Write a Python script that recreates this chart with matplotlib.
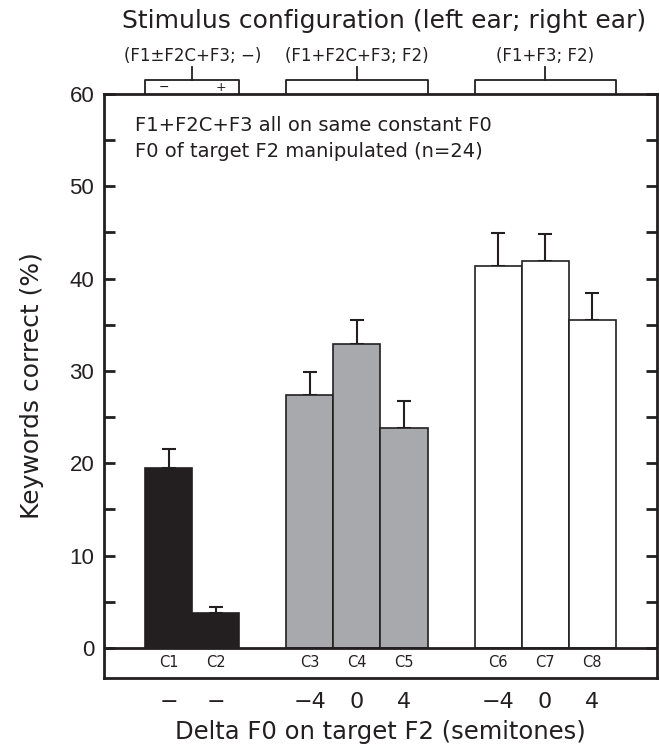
import matplotlib
matplotlib.use("Agg")
import matplotlib.pyplot as plt
import numpy as np

# ---- data ----
conditions = ["C1", "C2", "C3", "C4", "C5", "C6", "C7", "C8"]
positions = [1, 2, 4, 5, 6, 8, 9, 10]
values = [19.5, 3.8, 27.4, 32.9, 23.8, 41.4, 41.9, 35.5]
errors = [2.1, 0.6, 2.5, 2.6, 2.9, 3.5, 2.9, 2.9]
delta_labels = ["\u2212", "\u2212", "\u22124", "0", "4", "\u22124", "0", "4"]
group_labels = ["(F1\u00b1F2C+F3; \u2212)", "(F1+F2C+F3; F2)", "(F1+F3; F2)"]
group_spans = [(1, 2), (4, 6), (8, 10)]
bar_colors = ["#231f20", "#231f20", "#a7a9ac", "#a7a9ac", "#a7a9ac",
              "white", "white", "white"]
edge = "#231f20"

plt.rcParams['font.family'] = ['DejaVu Sans']

fig = plt.figure(figsize=(6.6, 7.47), dpi=100)
ax = fig.add_axes([104/660, 1-678/747, (657-104)/660, (678-94)/747])

ax.bar(positions, values, width=1.0, color=bar_colors, edgecolor=edge,
       linewidth=1.2, zorder=2)
ax.errorbar(positions, values, yerr=[np.zeros(len(values)), errors],
            fmt="none", ecolor=edge, elinewidth=1.5, capsize=4.8,
            capthick=1.5, zorder=1)

ax.set_xlim(-0.38, 11.38)
ax.set_ylim(-3.25, 60)
ax.axhline(0, color=edge, linewidth=2, zorder=3)

for s in ax.spines.values():
    s.set_linewidth(2)
    s.set_color(edge)

ax.set_yticks(range(0, 61, 10))
ax.set_yticks(range(5, 60, 10), minor=True)
ax.tick_params(axis='y', which='both', direction='in', length=8, width=2,
               right=True, colors=edge, pad=7)
for lab in ax.get_yticklabels():
    lab.set_fontfamily('Liberation Sans')
    lab.set_fontsize(16)
ax.set_xticks(positions)
ax.set_xticklabels(delta_labels, fontsize=16)
ax.tick_params(axis='x', length=0, pad=10, colors=edge)

for p, c in zip(positions, conditions):
    ax.text(p, -1.55, c, ha='center', va='center', fontsize=10.5, color=edge)

ax.set_ylabel("Keywords correct (%)", fontsize=18, labelpad=18, color=edge)
ax.set_xlabel("Delta F0 on target F2 (semitones)", fontsize=17.5, labelpad=6,
              color=edge)

ax.text(0.28, 57.6, "F1+F2C+F3 all on same constant F0\nF0 of target F2 manipulated (n=24)",
        ha='left', va='top', fontsize=14, linespacing=1.45, color=edge)

# bracket boxes above axes
for (a, b), lab in zip(group_spans, group_labels):
    x0, x1 = a - 0.5, b + 0.5
    ax.plot([x0, x0, x1, x1], [60, 61.5, 61.5, 60], color=edge, lw=1.3,
            clip_on=False)
    xm = (x0 + x1) / 2
    ax.plot([xm, xm], [61.5, 62.9], color=edge, lw=1.3, clip_on=False)
    ax.text(xm, 64.1, lab, ha='center', va='center', fontsize=12, color=edge)

ax.text(0.9, 60.75, "\u2212", ha='center', va='center', fontsize=9, color=edge)
ax.text(2.1, 60.75, "+", ha='center', va='center', fontsize=9, color=edge)

ax.text(5.58, 67.9, "Stimulus configuration (left ear; right ear)",
        ha='center', va='center', fontsize=18, color=edge)

fig.savefig("out.png", dpi=100)
